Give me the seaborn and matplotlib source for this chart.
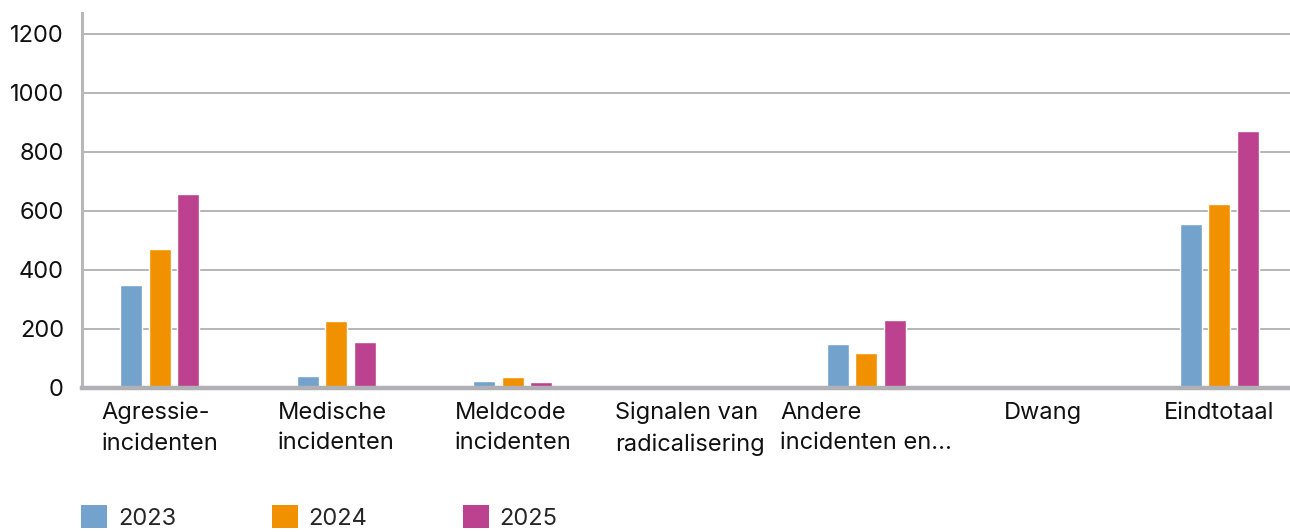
import matplotlib
matplotlib.use("Agg")
import matplotlib.pyplot as plt
import seaborn as sns
import pandas as pd
from matplotlib.patches import Patch

categories = ["Agressie-\nincidenten", "Medische\nincidenten", "Meldcode\nincidenten",
              "Signalen van\nradicalisering", "Andere\nincidenten en...", "Dwang", "Eindtotaal"]
years = ["2023", "2024", "2025"]
values_2023 = [349, 41, 24, 0, 149, 0, 556]
values_2024 = [471, 227, 37, 0, 119, 0, 624]
values_2025 = [658, 156, 20, 0, 230, 0, 871]
colors = ["#73A3CD", "#F29100", "#BC418F"]

rows = []
for y, vals in zip(years, [values_2023, values_2024, values_2025]):
    for c, v in zip(categories, vals):
        rows.append({"cat": c, "year": y, "value": v})
df = pd.DataFrame(rows)

sns.set_theme(style="white")
plt.rcParams["font.family"] = ["Inter", "DejaVu Sans"]

fig = plt.figure(figsize=(12.9, 5.32), dpi=100)
ax = fig.add_axes([82/1290, 1-388/532, 1-82/1290, (388-13)/532])

sns.barplot(data=df, x="cat", y="value", hue="year", order=categories, hue_order=years,
            palette=colors, width=0.484, gap=0.23, ax=ax, legend=False, saturation=1)

ax.set_ylim(0, 1270)
ax.set_xlim(-0.44, 6.40)
ax.set_yticks(range(0, 1201, 200))
ax.yaxis.grid(True, color="#B0B0B0", linewidth=1.3)
ax.set_axisbelow(True)
ax.set_xlabel("")
ax.set_ylabel("")
for s in ["top", "right"]:
    ax.spines[s].set_visible(False)
ax.spines["left"].set_color("#B8B8BC")
ax.spines["left"].set_linewidth(2.2)
ax.spines["bottom"].set_color("#B0B0B4")
ax.spines["bottom"].set_linewidth(3.2)
ax.tick_params(axis="both", length=0, labelsize=17, colors="#111111")
ax.tick_params(axis="y", pad=13)
ax.tick_params(axis="x", pad=10)
for lab in ax.get_xticklabels():
    lab.set_multialignment("left")
    lab.set_linespacing(1.5)

handles = [Patch(facecolor=c, edgecolor="none", label=y) for c, y in zip(colors, years)]
fig.legend(handles=handles, loc="upper left", bbox_to_anchor=(72/1290, 1-496/532),
           ncol=3, frameon=False, fontsize=17, handlelength=1.1, handleheight=1.1,
           handletextpad=0.45, columnspacing=4.05, borderaxespad=0)

fig.savefig("out.png", dpi=100)
